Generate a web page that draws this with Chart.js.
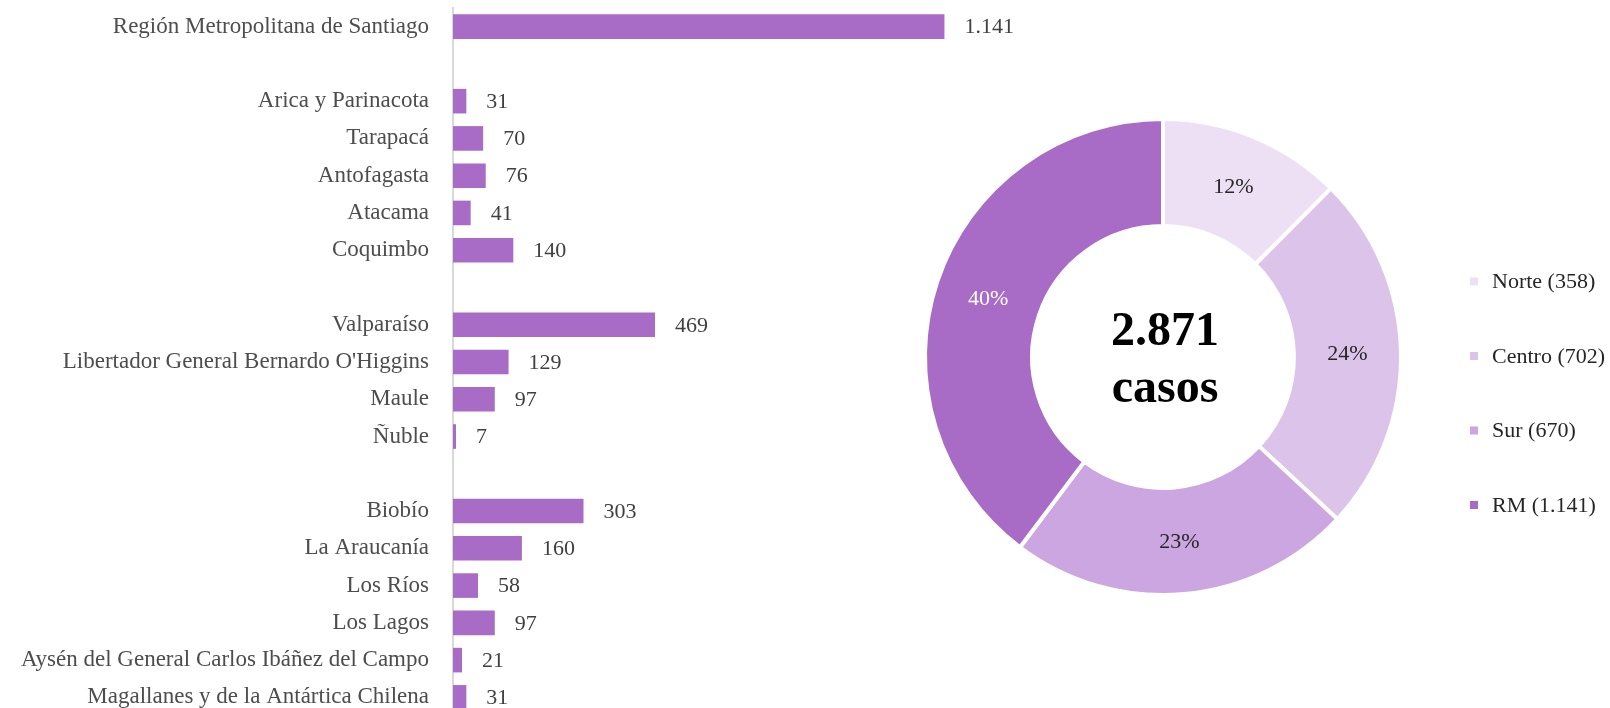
<!DOCTYPE html>
<html>
<head>
<meta charset="utf-8">
<title>Casos por región</title>
<script src="https://cdn.jsdelivr.net/npm/chart.js@4.4.1/dist/chart.umd.min.js"></script>
<style>
  html, body { margin: 0; padding: 0; background: #fff; width: 1610px; height: 708px; overflow: hidden; position: relative; }
  #barChart { position: absolute; left: 0; top: 0; }
  #zonaChart { position: absolute; left: 880px; top: 0; }
</style>
</head>
<body>
<canvas id="barChart" width="1056" height="716"></canvas>
<canvas id="zonaChart" width="730" height="708"></canvas>
<script>
// regiones (las etiquetas vacías son los espacios entre zonas)
const regiones = [
  "Región Metropolitana de Santiago",
  "",
  "Arica y Parinacota", "Tarapacá", "Antofagasta", "Atacama", "Coquimbo",
  "",
  "Valparaíso", "Libertador General Bernardo O'Higgins", "Maule", "Ñuble",
  "",
  "Biobío", "La Araucanía", "Los Ríos", "Los Lagos",
  "Aysén del General Carlos Ibáñez del Campo", "Magallanes y de la Antártica Chilena"
];
const casosRegion = [
  1141,
  null,
  31, 70, 76, 41, 140,
  null,
  469, 129, 97, 7,
  null,
  303, 160, 58, 97, 21, 31
];

const zonas = ["Norte", "Centro", "Sur", "RM"];
const casosZona = [358, 702, 670, 1141];

const colorBarra = "#a86bc6";
const coloresZona = ["#ede0f4", "#dcc3ea", "#cba6e0", "#a86bc6"];
const fuente = '"Liberation Serif", "DejaVu Serif", serif';

// 1141 -> "1.141"
function fmt(n) {
  return String(n).replace(/\B(?=(\d{3})+(?!\d))/g, ".");
}

// etiquetas de valor a la derecha de cada barra
const valorBarras = {
  id: "valorBarras",
  afterDatasetsDraw(chart) {
    const ctx = chart.ctx;
    const meta = chart.getDatasetMeta(0);
    ctx.save();
    ctx.font = "22px " + fuente;
    ctx.fillStyle = "#404040";
    ctx.textAlign = "left";
    ctx.textBaseline = "middle";
    meta.data.forEach((bar, i) => {
      const v = casosRegion[i];
      if (v == null) return;
      ctx.fillText(fmt(v), bar.x + 20, bar.y + 1);
    });
    ctx.restore();
  }
};

new Chart(document.getElementById("barChart"), {
  type: "bar",
  data: {
    labels: regiones,
    datasets: [{
      data: casosRegion,
      backgroundColor: colorBarra,
      borderWidth: 0,
      barPercentage: 0.66,
      categoryPercentage: 1
    }]
  },
  options: {
    indexAxis: "y",
    responsive: false,
    animation: false,
    layout: { padding: { top: 8, right: 0, bottom: 0, left: 0 } },
    plugins: { legend: { display: false }, tooltip: { enabled: false } },
    scales: {
      x: { display: false, min: 0, max: 1400 },
      y: {
        afterFit(scale) {
          scale.width = 453;
          scale.paddingTop = 0;
          scale.paddingBottom = 0;
        },
        grid: { display: false, drawTicks: false },
        border: { display: true, color: "#d9d9d9", width: 2 },
        ticks: {
          autoSkip: false,
          padding: 24,
          color: "#4d4d4d",
          font: { family: fuente, size: 23 }
        }
      }
    }
  },
  plugins: [valorBarras]
});

const totalCasos = casosZona.reduce((a, b) => a + b, 0);

// porcentajes dentro de cada sector
const porcentajes = {
  id: "porcentajes",
  afterDatasetsDraw(chart) {
    const ctx = chart.ctx;
    const meta = chart.getDatasetMeta(0);
    ctx.save();
    ctx.font = "22px " + fuente;
    ctx.textAlign = "center";
    ctx.textBaseline = "middle";
    meta.data.forEach((arc, i) => {
      const p = arc.getCenterPoint();
      ctx.fillStyle = i === 3 ? "#ffffff" : "#262626";
      ctx.fillText(Math.round(casosZona[i] / totalCasos * 100) + "%", p.x, p.y + 1);
    });
    ctx.restore();
  }
};

// total en el centro y leyenda a la derecha
const centroYLeyenda = {
  id: "centroYLeyenda",
  afterDraw(chart) {
    const ctx = chart.ctx;
    const arc = chart.getDatasetMeta(0).data[0];
    const cx = arc.x, cy = arc.y;
    ctx.save();
    ctx.fillStyle = "#000";
    ctx.textAlign = "center";
    ctx.textBaseline = "alphabetic";
    ctx.font = "bold 48px " + fuente;
    ctx.fillText(fmt(totalCasos), cx + 2, cy - 12);
    ctx.fillText("casos", cx + 2, cy + 45);

    ctx.font = "22px " + fuente;
    ctx.textAlign = "left";
    ctx.textBaseline = "middle";
    const lx = chart.chartArea.right + 24;
    zonas.forEach((z, i) => {
      const y = cy + (i - 1) * 74.5 - 1;
      ctx.fillStyle = coloresZona[i];
      ctx.fillRect(lx, y - 4, 8, 8);
      ctx.fillStyle = "#262626";
      ctx.fillText(z + " (" + fmt(casosZona[i]) + ")", lx + 22, y + 1);
    });
    ctx.restore();
  }
};

new Chart(document.getElementById("zonaChart"), {
  type: "doughnut",
  data: {
    labels: zonas,
    datasets: [{
      data: casosZona,
      backgroundColor: coloresZona,
      borderColor: "#ffffff",
      borderWidth: 4,
      hoverOffset: 0
    }]
  },
  options: {
    responsive: false,
    animation: false,
    radius: 238,
    cutout: "55%",
    layout: { padding: { top: 6, right: 164, bottom: 0, left: 0 } },
    plugins: { legend: { display: false }, tooltip: { enabled: false } }
  },
  plugins: [porcentajes, centroYLeyenda]
});
</script>
</body>
</html>
